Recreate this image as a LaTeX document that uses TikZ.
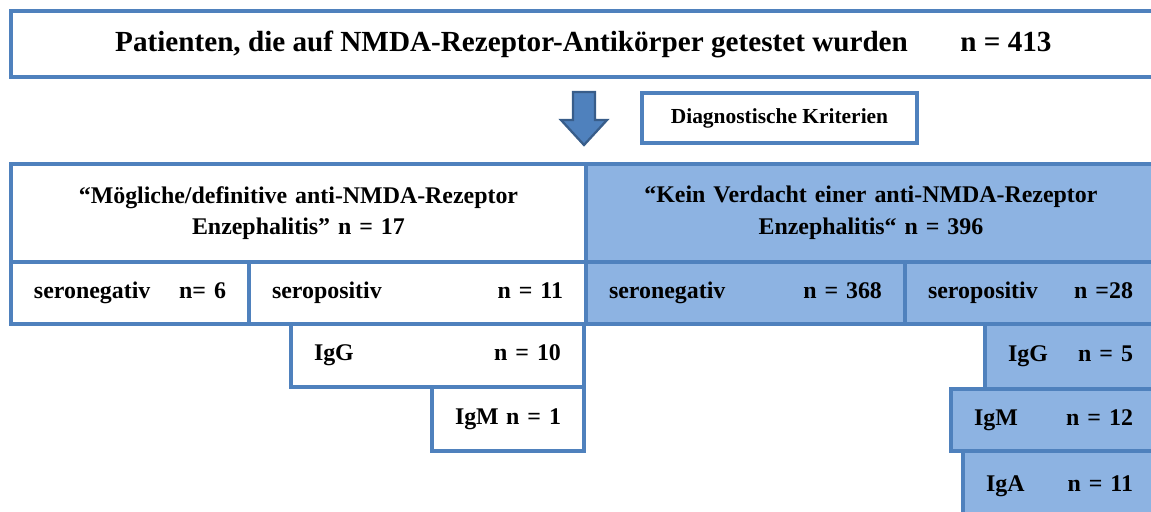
\documentclass[tikz,border=0pt]{standalone}
\usepackage{fontspec}
\setmainfont{Liberation Serif}
\definecolor{rahmen}{HTML}{4F81BD}
\definecolor{hellblau}{HTML}{8DB3E2}
\definecolor{pfeilrand}{HTML}{385D8A}
\tikzset{
  feld/.style={draw=rahmen, line width=2.3pt, fill=white, anchor=north west,
    inner xsep=0.46cm, inner ysep=0pt, outer sep=0pt, align=left,
    font=\bfseries\fontsize{13.6}{18}\selectfont},
  blau/.style={fill=hellblau}
}
\begin{document}
\begin{tikzpicture}[x=0.02cm, y=-0.02cm]
  \useasboundingbox (0,0) rectangle (1151,511);
  \clip (0,0) rectangle (1151,511);

  \node (alle) [feld, minimum width=22.9cm, minimum height=1.32cm, align=center,
    font=\bfseries\fontsize{16.6}{19}\selectfont] at (11,11)
    {Patienten, die auf NMDA-Rezeptor-Antikörper getestet wurden\hspace{1.05cm}n = 413};

  \filldraw[fill=rahmen, draw=pfeilrand, line width=1.3pt]
    (573,92) -- (595,92) -- (595,120) -- (607,120) -- (584,145)
    -- (561,120) -- (573,120) -- cycle;

  \node (kriterien) [feld, minimum width=5.5cm, minimum height=1cm, align=center,
    font=\bfseries\fontsize{12.2}{14}\selectfont] at (642,93) {Diagnostische Kriterien};

  \node (moeglich) [feld, minimum width=11.5cm, minimum height=1.96cm,
    text width=10.58cm, align=center] at (11,164)
    {“Mögliche/definitive anti-NMDA-Rezeptor\\Enzephalitis” n = 17};
  \node (keinverdacht) [feld, blau, minimum width=11.4cm, minimum height=1.96cm,
    text width=10.48cm, align=center] at (586,164)
    {“Kein Verdacht einer anti-NMDA-Rezeptor\\Enzephalitis“ n = 396};

  \node (lneg) [feld, minimum width=4.76cm, minimum height=1.24cm, text width=3.84cm]
    at (11,262) {seronegativ\hfill n= 6};
  \node (lpos) [feld, minimum width=6.74cm, minimum height=1.24cm, text width=5.82cm]
    at (249,262) {seropositiv\hfill n = 11};
  \node (rneg) [feld, blau, minimum width=6.38cm, minimum height=1.24cm, text width=5.46cm]
    at (586,262) {seronegativ\hfill n = 368};
  \node (rpos) [feld, blau, minimum width=5.02cm, minimum height=1.24cm, text width=4.1cm]
    at (905,262) {seropositiv\hfill n =28};

  \node (ligg) [feld, minimum width=5.86cm, minimum height=1.26cm, text width=4.94cm]
    at (291,324) {IgG\hfill n = 10};
  \node (ligm) [feld, minimum width=3.04cm, minimum height=1.28cm, text width=2.12cm]
    at (432,387) {IgM\hfill n = 1};

  \node (rigg) [feld, blau, minimum width=3.42cm, minimum height=1.3cm, text width=2.5cm]
    at (985,324) {IgG\hfill n = 5};
  \node (rigm) [feld, blau, minimum width=4.1cm, minimum height=1.24cm, text width=3.18cm]
    at (951,389) {IgM\hfill n = 12};
  \node (riga) [feld, blau, minimum width=3.86cm, minimum height=1.4cm, text width=2.94cm]
    at (963,451) {IgA\hfill n = 11};
\end{tikzpicture}
\end{document}
